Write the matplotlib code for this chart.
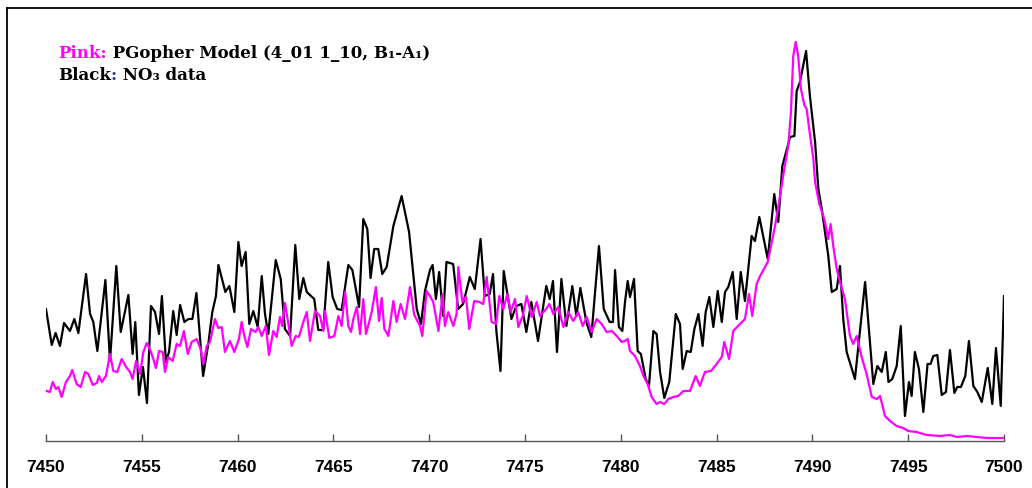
import matplotlib
matplotlib.use("Agg")
import matplotlib.pyplot as plt
from matplotlib.lines import Line2D

# NO3 data (black) - wavenumber / intensity (arb. units)
black_wn = [
    7450.0, 7450.3, 7450.5, 7450.73, 7450.94, 7451.25, 7451.48, 7451.69, 7452.09, 7452.3,
    7452.47, 7452.68, 7453.1, 7453.34, 7453.67, 7453.9, 7454.3, 7454.52, 7454.66, 7454.85,
    7455.06, 7455.27, 7455.48, 7455.69, 7455.9, 7456.05, 7456.26, 7456.42, 7456.64, 7456.82,
    7457.0, 7457.22, 7457.43, 7457.64, 7457.85, 7458.2, 7458.47, 7458.68, 7458.87, 7459.0,
    7459.36, 7459.57, 7459.83,
    7460.04, 7460.21, 7460.42, 7460.61, 7460.82, 7461.05, 7461.26, 7461.43, 7461.6, 7461.99,
    7462.25, 7462.47, 7462.74, 7463.01, 7463.22, 7463.43, 7463.61, 7464.0, 7464.21, 7464.47,
    7464.73, 7464.96, 7465.2, 7465.43, 7465.78, 7465.99, 7466.34, 7466.56, 7466.77, 7466.94,
    7467.13, 7467.34, 7467.55, 7467.78, 7468.13, 7468.56, 7468.95, 7469.35, 7469.57, 7469.78,
    7470.04, 7470.18, 7470.35, 7470.52, 7470.73, 7470.9, 7471.25, 7471.51, 7471.77, 7472.12,
    7472.38, 7472.68, 7472.9, 7473.16, 7473.33, 7473.51, 7473.72, 7473.89, 7474.29, 7474.55,
    7474.81, 7475.07, 7475.33, 7475.68, 7476.11, 7476.29, 7476.46, 7476.67, 7476.9, 7477.16,
    7477.47, 7477.68, 7477.89, 7478.2, 7478.46, 7478.86, 7479.11, 7479.42, 7479.59, 7479.7,
    7479.9, 7480.08,
    7480.22, 7480.36, 7480.48, 7480.69, 7480.88, 7481.05, 7481.3, 7481.47, 7481.7, 7481.87,
    7482.05, 7482.27, 7482.53, 7482.87, 7483.09, 7483.23, 7483.44, 7483.65, 7483.84, 7484.05,
    7484.27, 7484.43, 7484.62, 7484.83, 7485.06, 7485.27, 7485.44, 7485.61, 7485.84, 7486.05,
    7486.26, 7486.48, 7486.83, 7487.0, 7487.23, 7487.67, 7488.01, 7488.22, 7488.43, 7488.74,
    7488.83, 7489.06, 7489.18, 7489.35, 7489.67, 7489.87, 7490.14, 7490.31, 7490.49, 7490.83,
    7491.01, 7491.27, 7491.44, 7491.61, 7491.79, 7492.22, 7492.75,
    7493.18, 7493.39, 7493.62, 7493.83, 7493.97, 7494.17, 7494.4, 7494.61, 7494.83, 7495.04,
    7495.18, 7495.35, 7495.56, 7495.79, 7496.01, 7496.17, 7496.31, 7496.52, 7496.75, 7496.97,
    7497.18, 7497.41, 7497.56, 7497.75, 7497.98, 7498.17, 7498.4, 7498.61, 7498.84, 7499.15,
    7499.39, 7499.58, 7499.83, 7500.0,
]
black_int = [
    128, 92, 104, 91, 114, 106, 118, 104, 163, 123,
    115, 86, 157, 76, 171, 105, 142, 83, 115, 42,
    70, 34, 131, 125, 103, 141, 75, 85, 126, 102,
    132, 115, 118, 118, 144, 61, 93, 125, 141, 172,
    145, 151, 125,
    195, 171, 185, 113, 126, 110, 161, 123, 103, 177,
    158, 108, 101, 192, 138, 159, 145, 138, 107, 107,
    175, 140, 128, 127, 172, 167, 130, 218, 208, 159,
    188, 188, 163, 170, 211, 241, 205, 128, 113, 146,
    167, 172, 138, 165, 121, 175, 173, 128, 133, 160,
    148, 198, 141, 143, 163, 105, 66, 166, 118, 131,
    133, 105, 135, 96, 151, 138, 156, 85, 158, 111,
    151, 121, 149, 115, 100, 191, 128, 115, 115, 167,
    110, 106,
    135, 156, 140, 158, 86, 83, 58, 51, 106, 103,
    65, 39, 55, 123, 113, 68, 86, 85, 108, 123,
    91, 125, 140, 110, 146, 115, 145, 150, 165, 118,
    165, 136, 201, 196, 220, 178, 243, 215, 271, 293,
    300, 301, 346, 355, 386, 341, 295, 248, 228, 181,
    145, 148, 171, 118, 85, 58, 155,
    53, 71, 65, 85, 55, 58, 71, 111, 21, 55,
    41, 85, 68, 25, 73, 73, 81, 82, 42, 45,
    87, 44, 50, 50, 61, 96, 51, 45, 35, 69,
    33, 89, 31, 141,
]

# PGopher model (pink)
pink_wn = [
    7450.03, 7450.2, 7450.35, 7450.52, 7450.64, 7450.82, 7451.04, 7451.25, 7451.37, 7451.6,
    7451.81, 7452.04, 7452.21, 7452.44, 7452.65, 7452.77, 7452.91, 7453.13, 7453.34, 7453.51,
    7453.72, 7453.95, 7454.18, 7454.38, 7454.52, 7454.7, 7454.91, 7455.08, 7455.26, 7455.46,
    7455.6, 7455.74, 7455.9, 7456.09, 7456.21, 7456.38, 7456.61, 7456.82, 7456.99, 7457.2,
    7457.4, 7457.6, 7457.87, 7458.07, 7458.21, 7458.39, 7458.56, 7458.82, 7458.99, 7459.17,
    7459.34, 7459.6, 7459.83,
    7460.07, 7460.21, 7460.35, 7460.51, 7460.7, 7460.94, 7461.08, 7461.26, 7461.47, 7461.64,
    7461.86, 7462.04, 7462.21, 7462.33, 7462.47, 7462.61, 7462.82, 7463.03, 7463.2, 7463.43,
    7463.61, 7463.78, 7464.04, 7464.3, 7464.47, 7464.56, 7464.79, 7465.05, 7465.26, 7465.43,
    7465.61, 7465.78, 7465.92, 7466.04, 7466.22, 7466.39, 7466.56, 7466.7, 7467.0, 7467.22,
    7467.38, 7467.52, 7467.66, 7467.87, 7468.13, 7468.3, 7468.51, 7468.74, 7469.0, 7469.22,
    7469.52, 7469.64, 7469.87,
    7470.04, 7470.21, 7470.48, 7470.7, 7470.82, 7470.99, 7471.26, 7471.43, 7471.52, 7471.73,
    7471.92, 7472.09, 7472.35, 7472.61, 7472.82, 7473.0, 7473.26, 7473.49, 7473.66, 7473.87,
    7474.08, 7474.25, 7474.48, 7474.65, 7474.88, 7475.09, 7475.35, 7475.61, 7475.78, 7476.1,
    7476.27, 7476.48, 7476.74, 7477.0, 7477.26, 7477.52, 7477.78, 7478.01, 7478.22, 7478.48,
    7478.74, 7479.0, 7479.26, 7479.53, 7479.79, 7480.05,
    7480.22, 7480.36, 7480.48, 7480.74, 7481.0, 7481.18, 7481.4, 7481.61, 7481.87, 7482.05,
    7482.27, 7482.48, 7482.74, 7483.0, 7483.26, 7483.61, 7483.91, 7484.13, 7484.39, 7484.71,
    7485.0, 7485.27, 7485.4, 7485.65, 7485.87, 7486.22, 7486.48, 7486.69, 7486.86, 7487.09,
    7487.27, 7487.44, 7487.67, 7487.88, 7488.05, 7488.26, 7488.53, 7488.74, 7488.88, 7489.0,
    7489.13, 7489.26, 7489.4, 7489.58, 7489.7, 7489.82, 7490.05, 7490.14, 7490.36, 7490.62,
    7490.83, 7490.95, 7491.09, 7491.27, 7491.44, 7491.7, 7491.96, 7492.13, 7492.31, 7492.57,
    7492.83, 7493.1, 7493.36, 7493.53, 7493.79, 7494.05, 7494.4, 7494.74, 7495.0, 7495.44,
    7495.96, 7496.66, 7497.18, 7497.53, 7498.05, 7499.1, 7500.0,
]
pink_int = [
    46, 45, 55, 48, 50, 40, 55, 61, 67, 53,
    50, 65, 63, 52, 54, 61, 55, 61, 83, 66,
    65, 78, 70, 65, 58, 76, 63, 85, 94, 86,
    78, 69, 86, 85, 65, 80, 76, 93, 91, 106,
    83, 95, 98, 88, 73, 91, 95, 118, 109, 110,
    85, 96, 85,
    98, 115, 101, 90, 108, 105, 110, 101, 111, 82,
    106, 100, 120, 111, 134, 118, 91, 101, 100, 115,
    125, 96, 126, 121, 106, 126, 99, 101, 121, 111,
    145, 111, 105, 118, 130, 103, 138, 103, 125, 150,
    116, 139, 108, 101, 136, 115, 133, 118, 150, 122,
    111, 101, 146,
    141, 135, 106, 143, 111, 125, 111, 123, 170, 135,
    140, 108, 136, 135, 133, 160, 115, 113, 141, 128,
    143, 125, 138, 110, 121, 141, 120, 135, 121, 128,
    133, 123, 130, 110, 125, 116, 125, 111, 120, 105,
    118, 113, 105, 106, 101, 95,
    96, 98, 86, 81, 71, 61, 53, 40, 33, 35,
    33, 38, 40, 41, 46, 46, 61, 51, 65, 66,
    73, 80, 95, 78, 106, 113, 118, 143, 121, 153,
    161, 167, 175, 195, 211, 235, 268, 291, 325, 381,
    395, 381, 348, 332, 328, 310, 278, 255, 233, 218,
    198, 213, 191, 168, 155, 138, 101, 93, 101, 80,
    63, 40, 38, 41, 21, 16, 11, 9, 6, 5,
    2, 1, 2, 0, 1, -1, -1,
]

x_ticks = [7450, 7455, 7460, 7465, 7470, 7475, 7480, 7485, 7490, 7495, 7500]

PINK = "#ff00ff"
W, H = 1032, 489

fig = plt.figure(figsize=(W / 100, H / 100), dpi=100)
ax = fig.add_axes([46 / W, (H - 442) / H, (1004 - 46) / W, (442 - 18) / H])

ax.plot(black_wn, black_int, color="black", lw=1.6, zorder=2)
ax.plot(pink_wn, pink_int, color=PINK, lw=1.6, zorder=3)

ax.set_xlim(7450, 7500)
ax.set_ylim(-4, 420)
ax.set_xticks(x_ticks)
ax.set_yticks([])
for side in ["top", "right", "left"]:
    ax.spines[side].set_visible(False)
ax.spines["bottom"].set_color("#555555")
ax.spines["bottom"].set_linewidth(1.0)
ax.tick_params(axis="x", direction="in", length=5, width=1, color="#555555",
               pad=13, labelsize=12.5)
for lab in ax.get_xticklabels():
    lab.set_fontfamily("Liberation Sans")
    lab.set_fontweight("bold")

# frame lines round the picture (left and top only visible)
fig.add_artist(Line2D([7 / W, 7 / W], [0, 1 - 9 / H], transform=fig.transFigure,
                      color="black", lw=1.3))
fig.add_artist(Line2D([7 / W, 1], [1 - 9 / H, 1 - 9 / H], transform=fig.transFigure,
                      color="black", lw=1.3))

# two line note in the top left, drawn piece by piece for colours
renderer = fig.canvas.get_renderer()


def rich_line(x_px, y_px, pieces, size=12):
    x = x_px / W
    for s, c in pieces:
        t = fig.text(x, 1 - y_px / H, s, color=c, fontsize=size, fontweight="bold",
                     family=["DejaVu Serif", "DejaVu Sans"], va="baseline", ha="left")
        bb = t.get_window_extent(renderer=renderer)
        x += bb.width / W


rich_line(58, 58, [("Pink:", PINK), (" PGopher Model (4_01 1_10, B\u2081-A\u2081)", "black")])
rich_line(58, 80, [("Black", "black"), (":", "#333399"), (" NO\u2083 data", "black")])

fig.savefig("out.png", dpi=100)
